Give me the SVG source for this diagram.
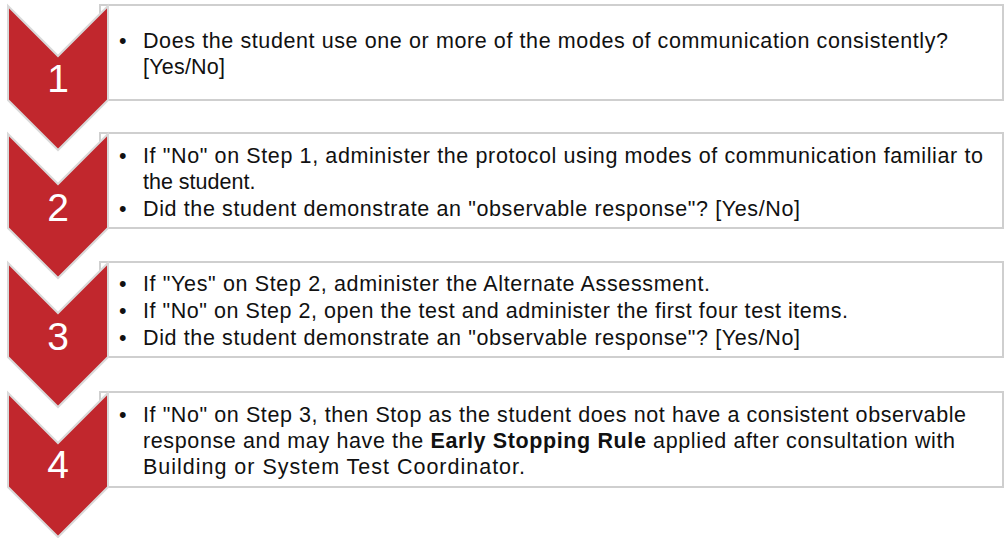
<svg xmlns="http://www.w3.org/2000/svg" width="1005" height="538" viewBox="0 0 1005 538">
<style>
.box{fill:#ffffff;stroke:#cfcfcf;stroke-width:2}
.chev{fill:#c1272d;stroke:#d9d9d9;stroke-width:2;stroke-linejoin:miter}
.num{font-family:"Liberation Sans",Arial,sans-serif;font-size:39px;fill:#ffffff;text-anchor:middle}
.t{font-family:"Liberation Sans",Arial,sans-serif;font-size:21.5px;fill:#111111}
.b{font-weight:bold}
</style>
<rect width="1005" height="538" fill="#ffffff"/>
<g id="step1">
<rect class="box" x="100" y="5" width="903" height="95"/>
<polygon class="chev" points="8,6 58,56 108,6 108,100 58,150 8,100"/>
<text class="num" x="58" y="92">1</text>
<text class="t" x="119" y="48">•</text>
<text class="t" x="143" y="48" textLength="805" lengthAdjust="spacing">Does the student use one or more of the modes of communication consistently?</text>
<text class="t" x="143" y="74" textLength="82" lengthAdjust="spacing">[Yes/No]</text>
</g>
<g id="step2">
<rect class="box" x="100" y="133" width="903" height="95"/>
<polygon class="chev" points="8,134 58,184 108,134 108,228 58,278 8,228"/>
<text class="num" x="58" y="221">2</text>
<text class="t" x="119" y="163">•</text>
<text class="t" x="143" y="163" textLength="840" lengthAdjust="spacing">If "No" on Step 1, administer the protocol using modes of communication familiar to</text>
<text class="t" x="143" y="189">the student.</text>
<text class="t" x="119" y="216">•</text>
<text class="t" x="143" y="216" textLength="657" lengthAdjust="spacing">Did the student demonstrate an "observable response"? [Yes/No]</text>
</g>
<g id="step3">
<rect class="box" x="100" y="262" width="903" height="95"/>
<polygon class="chev" points="8,263 58,313 108,263 108,357 58,407 8,357"/>
<text class="num" x="58" y="350">3</text>
<text class="t" x="119" y="291">•</text>
<text class="t" x="143" y="291" textLength="567" lengthAdjust="spacing">If "Yes" on Step 2, administer the Alternate Assessment.</text>
<text class="t" x="119" y="318">•</text>
<text class="t" x="143" y="318" textLength="705" lengthAdjust="spacing">If "No" on Step 2, open the test and administer the first four test items.</text>
<text class="t" x="119" y="345">•</text>
<text class="t" x="143" y="345" textLength="657" lengthAdjust="spacing">Did the student demonstrate an "observable response"? [Yes/No]</text>
</g>
<g id="step4">
<rect class="box" x="100" y="392" width="903" height="95"/>
<polygon class="chev" points="8,393 58,443 108,393 108,487 58,537 8,487"/>
<text class="num" x="58" y="478">4</text>
<text class="t" x="119" y="422">•</text>
<text class="t" x="143" y="422" textLength="823" lengthAdjust="spacing">If "No" on Step 3, then Stop as the student does not have a consistent observable</text>
<text class="t" x="143" y="448" textLength="812" lengthAdjust="spacing">response and may have the <tspan class="b">Early Stopping Rule</tspan> applied after consultation with</text>
<text class="t" x="143" y="474" textLength="382" lengthAdjust="spacing">Building or System Test Coordinator.</text>
</g>
<g id="connectors"></g>
</svg>
